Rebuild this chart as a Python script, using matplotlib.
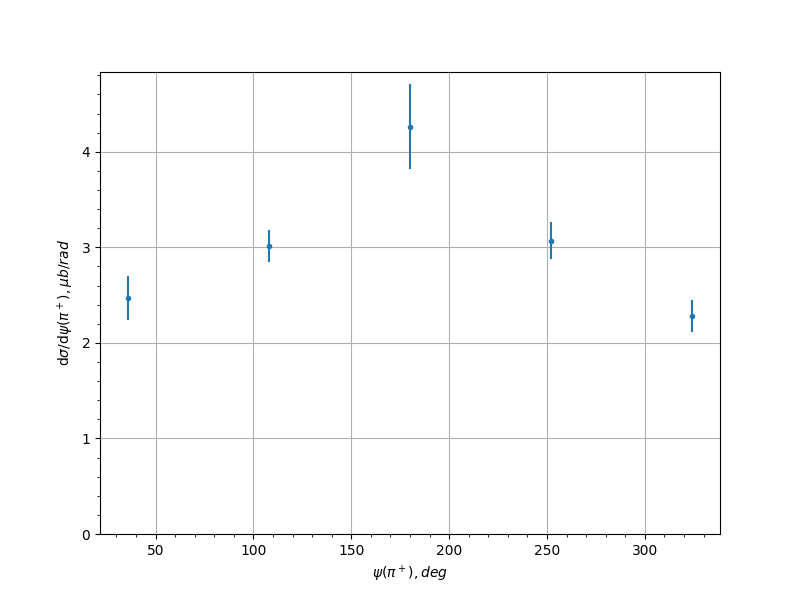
import matplotlib
matplotlib.use("Agg")
import matplotlib.pyplot as plt

psi_deg = [36, 108, 180, 252, 324]
dsigma = [2.47, 3.015, 4.26, 3.07, 2.28]
dsigma_err = [0.235, 0.165, 0.445, 0.195, 0.165]

fig, ax = plt.subplots(figsize=(8, 6), dpi=100)
ax.errorbar(psi_deg, dsigma, yerr=dsigma_err, fmt='.')
ax.set_ylim(bottom=0)
ax.minorticks_on()
ax.grid(which='major')
ax.set_xlabel(r'$\psi(\pi^+), deg$')
ax.set_ylabel(r'd$\sigma$/d$\psi(\pi^+), \mu b/rad$')
fig.savefig('out.png', dpi=100)
